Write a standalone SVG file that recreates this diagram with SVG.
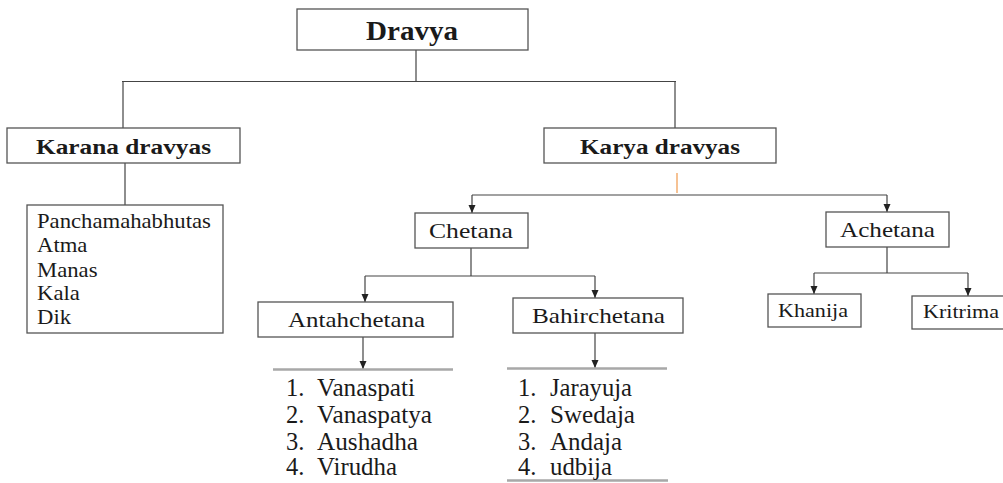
<svg xmlns="http://www.w3.org/2000/svg" width="1003" height="483" viewBox="0 0 1003 483">
<style>
.box{fill:#fff;stroke:#555;stroke-width:1.3}
.t{font-family:"Liberation Serif","Times New Roman",serif;fill:#1a1a1a}
.b{font-weight:bold}
.c{fill:none;stroke:#444;stroke-width:1.2}
.sep{fill:none;stroke:#a8a8a8;stroke-width:2.5}
</style>
<defs>
<marker id="ah" markerUnits="userSpaceOnUse" markerWidth="8" markerHeight="8" refX="8" refY="3.5" orient="auto">
<path d="M0,0 L8,3.5 L0,7 z" fill="#222"/>
</marker>
</defs>
<rect width="1003" height="483" fill="#fff"/>
<g id="connectors">
<path class="c" d="M416 50 V81.5 M122 81.5 H676 M123 81 V128 M675 81 V128 M125 163 V205"/>
<path d="M677 173 V193" fill="none" stroke="#f2a15a" stroke-width="1.3"/>
<path class="c" d="M472 195 H887"/>
<path class="c" d="M472 195 V213" marker-end="url(#ah)"/>
<path class="c" d="M887 195 V212" marker-end="url(#ah)"/>
<path class="c" d="M471 248 V276 M365 276 H595"/>
<path class="c" d="M365 276 V302" marker-end="url(#ah)"/>
<path class="c" d="M595 276 V298" marker-end="url(#ah)"/>
<path class="c" d="M887 247 V273 M814 273 H968"/>
<path class="c" d="M814 273 V294" marker-end="url(#ah)"/>
<path class="c" d="M968 273 V296" marker-end="url(#ah)"/>
<path class="c" d="M363 337 V369" marker-end="url(#ah)"/>
<path class="c" d="M595 333 V368" marker-end="url(#ah)"/>
<path class="sep" d="M273 369.5 H453 M507 368.5 H667 M507 480.5 H668"/>
</g>
<g id="dravya">
<rect class="box" x="297" y="9" width="231" height="41"/>
<text class="t b" x="366" y="40" font-size="28" textLength="92" lengthAdjust="spacingAndGlyphs">Dravya</text>
</g>
<g id="karana">
<rect class="box" x="7" y="128" width="233" height="35"/>
<text class="t b" x="36" y="154" font-size="21" textLength="175" lengthAdjust="spacingAndGlyphs">Karana dravyas</text>
</g>
<g id="karana-list">
<rect class="box" x="27" y="205" width="196" height="128"/>
<g class="t" font-size="20" transform="translate(37,0) scale(1.135,1)">
<text x="0" y="228">Panchamahabhutas</text>
<text x="0" y="252">Atma</text>
<text x="0" y="277">Manas</text>
<text x="0" y="300">Kala</text>
<text x="0" y="324">Dik</text>
</g>
</g>
<g id="karya">
<rect class="box" x="544" y="128" width="232" height="35"/>
<text class="t b" x="580" y="154" font-size="22" textLength="160" lengthAdjust="spacingAndGlyphs">Karya dravyas</text>
</g>
<g id="chetana">
<rect class="box" x="415" y="213" width="113" height="35"/>
<text class="t" x="429" y="238" font-size="22" textLength="84" lengthAdjust="spacingAndGlyphs">Chetana</text>
</g>
<g id="achetana">
<rect class="box" x="826" y="212" width="123" height="35"/>
<text class="t" x="840" y="237" font-size="22" textLength="95" lengthAdjust="spacingAndGlyphs">Achetana</text>
</g>
<g id="khanija">
<rect class="box" x="768" y="294" width="93" height="33"/>
<text class="t" x="778" y="317" font-size="19" textLength="70" lengthAdjust="spacingAndGlyphs">Khanija</text>
</g>
<g id="kritrima">
<rect class="box" x="912" y="296" width="95" height="33"/>
<text class="t" x="923" y="318" font-size="19" textLength="76" lengthAdjust="spacingAndGlyphs">Kritrima</text>
</g>
<g id="antahchetana">
<rect class="box" x="258" y="302" width="195" height="35"/>
<text class="t" x="288" y="327" font-size="22" textLength="137" lengthAdjust="spacingAndGlyphs">Antahchetana</text>
</g>
<g id="bahirchetana">
<rect class="box" x="513" y="298" width="170" height="35"/>
<text class="t" x="532" y="323" font-size="22" textLength="133" lengthAdjust="spacingAndGlyphs">Bahirchetana</text>
</g>
<g id="antah-list" class="t" font-size="24.5">
<text x="286" y="396">1.</text><text x="317" y="396" textLength="98" lengthAdjust="spacingAndGlyphs">Vanaspati</text>
<text x="286" y="423">2.</text><text x="317" y="423" textLength="115" lengthAdjust="spacingAndGlyphs">Vanaspatya</text>
<text x="286" y="450">3.</text><text x="317" y="450" textLength="101" lengthAdjust="spacingAndGlyphs">Aushadha</text>
<text x="286" y="475">4.</text><text x="317" y="475" textLength="80" lengthAdjust="spacingAndGlyphs">Virudha</text>
</g>
<g id="bahir-list" class="t" font-size="24.5">
<text x="518" y="396">1.</text><text x="550" y="396" textLength="82" lengthAdjust="spacingAndGlyphs">Jarayuja</text>
<text x="518" y="423">2.</text><text x="550" y="423" textLength="85" lengthAdjust="spacingAndGlyphs">Swedaja</text>
<text x="518" y="450">3.</text><text x="550" y="450" textLength="72" lengthAdjust="spacingAndGlyphs">Andaja</text>
<text x="518" y="475">4.</text><text x="550" y="475" textLength="62" lengthAdjust="spacingAndGlyphs">udbija</text>
</g>
</svg>
